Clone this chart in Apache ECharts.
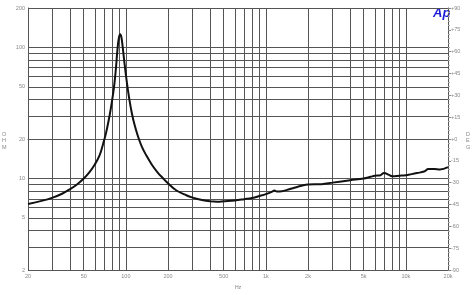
<!DOCTYPE html>
<html><head><meta charset="utf-8">
<script src="https://cdn.jsdelivr.net/npm/echarts@6/dist/echarts.min.js"></script>
<style>html,body{margin:0;padding:0;background:#fff}#c{width:475px;height:295px}</style>
</head><body><div id="c"></div>
<script>
const freqHz = [20,25,30,35,40,45,50,55,60,65,69,72,75,78,81,83,85,87,89,91,93,95,97.5,100,103,106,110,115,122,130,140,153,170,185,200,230,270,300,350,400,450,500,600,700,800,900,1000,1100,1150,1200,1300,1400,1600,1800,2000,2500,3000,4000,5000,5600,6000,6500,7000,7500,8000,9000,10000,11000,12000,13500,14500,16000,17500,20000];
const impedanceOhm = [6.4,6.75,7.15,7.65,8.3,9.05,10.0,11.2,12.8,15.1,18.6,22,27,34,44,54,70,95,117,126,119,100,78,62,49,40,32,26,21,17.5,15.0,12.8,11.0,10.0,9.2,8.1,7.45,7.15,6.85,6.7,6.65,6.7,6.8,6.95,7.1,7.35,7.6,7.9,8.1,7.95,8.0,8.15,8.5,8.8,9.0,9.05,9.3,9.7,10.0,10.3,10.5,10.55,11.0,10.7,10.4,10.5,10.6,10.8,11.0,11.3,11.8,11.8,11.7,12.2];
const xGridValues = [20,30,40,50,60,70,80,90,100,200,300,400,500,600,700,800,900,1000,2000,3000,4000,5000,6000,7000,8000,9000,10000,20000];
const xLabelValues = [20,50,100,200,500,1000,2000,5000,10000,20000];
const xLabelText = {20:'20',50:'50',100:'100',200:'200',500:'500',1000:'1k',2000:'2k',5000:'5k',10000:'10k',20000:'20k'};
const yGridValues = [2,3,4,5,6,7,8,9,10,20,30,40,50,60,70,80,90,100,200];
const yLabelValues = [2,5,10,20,50,100,200];
const degMin = -90, degMax = 90, degStep = 15;

const chart = echarts.init(document.getElementById('c'), null, {renderer:'canvas'});
const lineCol = '#555';
const labCol = '#888';
chart.setOption({
  animation:false,
  grid:{left:28, top:8, right:27, bottom:16},
  xAxis:{
    type:'log', logBase:10, min:20, max:20000,
    name:'Hz', nameLocation:'middle', nameGap:8,
    nameTextStyle:{fontSize:5.5, color:labCol, fontFamily:'Liberation Sans'},
    axisLine:{show:true, lineStyle:{color:lineCol, width:1}},
    axisTick:{show:false, customValues:xGridValues},
    axisLabel:{customValues:xLabelValues, fontSize:5.5, color:labCol, margin:3, fontFamily:'Liberation Sans',
      formatter:v=>xLabelText[Math.round(v)] || String(v)},
    splitLine:{show:true, lineStyle:{color:lineCol, width:1}}
  },
  yAxis:[{
    type:'log', logBase:10, min:2, max:200, position:'left',
    axisLine:{show:true, lineStyle:{color:lineCol, width:1}},
    axisTick:{show:false, customValues:yGridValues},
    axisLabel:{customValues:yLabelValues, fontSize:5.5, color:labCol, margin:3, fontFamily:'Liberation Sans'},
    splitLine:{show:true, lineStyle:{color:lineCol, width:1}}
  },{
    type:'value', min:degMin, max:degMax, interval:degStep, position:'right',
    axisLine:{show:true, lineStyle:{color:lineCol, width:1}},
    axisTick:{show:true, length:3, lineStyle:{color:'#888'}},
    minorTick:{show:true, splitNumber:5, length:2, lineStyle:{color:'#aaa'}},
    axisLabel:{fontSize:5.5, color:labCol, margin:3, fontFamily:'Liberation Sans',
      formatter:v=> v>=0 ? '+'+v : String(v)},
    splitLine:{show:false}
  }],
  graphic:[
    {type:'text', left:2, top:131, style:{text:'O\nH\nM', fontSize:5.5, lineHeight:6.5, fill:labCol, fontFamily:'Liberation Sans', align:'center'}},
    {type:'text', left:466, top:131, style:{text:'D\nE\nG', fontSize:5.5, lineHeight:6.5, fill:labCol, fontFamily:'Liberation Sans', align:'center'}},
    {type:'text', left:433, top:7, style:{text:'Ap', fontSize:13, fontWeight:'bold', fontStyle:'italic', fill:'#1c1cd8', fontFamily:'Liberation Sans'}}
  ],
  series:[{
    type:'line', yAxisIndex:0, showSymbol:false, smooth:0.4,
    lineStyle:{color:'#111', width:2},
    data: freqHz.map((f,i)=>[f, impedanceOhm[i]])
  }]
});
</script></body></html>
